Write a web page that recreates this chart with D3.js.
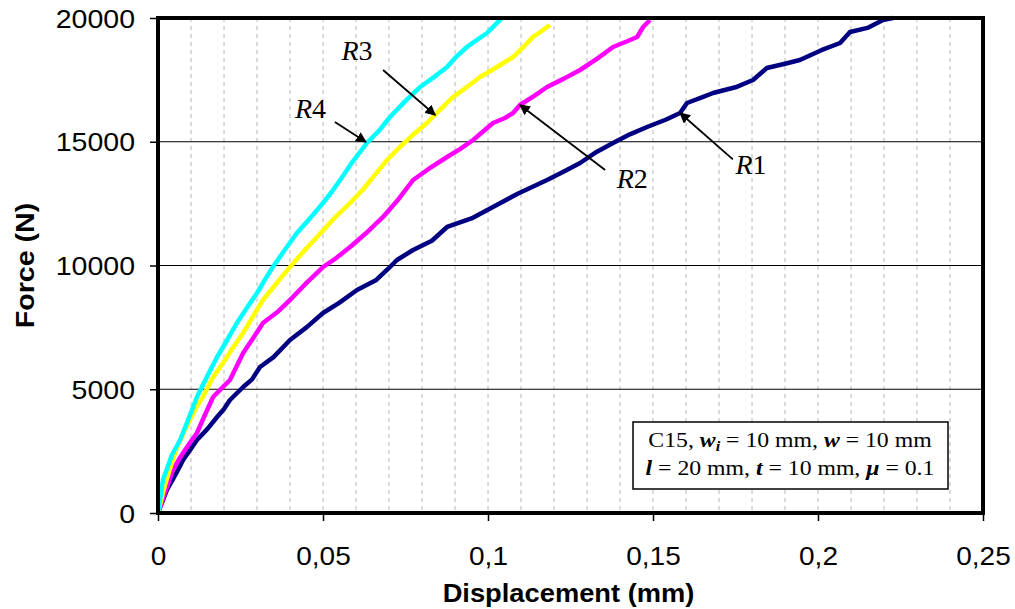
<!DOCTYPE html>
<html lang="en">
	<head>
		<meta charset="utf-8">
		<title>Force vs displacement</title>
		<script type="text/javascript" src="https://cdnjs.cloudflare.com/ajax/libs/d3/7.8.5/d3.min.js"></script>
		<style type="text/css">
			body { margin: 0; background: #fff; }
			.curve { fill: none; stroke-width: 4.5; stroke-linejoin: round; }
			.vgrid { stroke: #b8b8b8; stroke-dasharray: 4, 4; stroke-width: 1; }
			.hgrid { stroke: #000; stroke-width: 1; }
			.axis text { font-family: "Liberation Sans", Arial, sans-serif; font-size: 25px; fill: #000; }
			.axis line { stroke: #000; stroke-width: 1.5; }
			.title { font-family: "Liberation Sans", Arial, sans-serif; font-size: 26px; font-weight: bold; }
			.rlabel { font-family: "Liberation Serif", "Times New Roman", serif; font-size: 28px; }
			.note { font-family: "Liberation Serif", "Times New Roman", serif; font-size: 22px; }
		</style>
	</head>
	<body>
		<script type="text/javascript">

			var w = 1015;
			var h = 609;
			var margin = {left: 158, right: 32, top: 18, bottom: 96};

			// x = displacement (mm), y = force (N)
			var r1X = [0, 0.0027, 0.0055, 0.0076, 0.0100, 0.0118, 0.0150, 0.0179, 0.0200, 0.0218, 0.0258, 0.0285, 0.0309, 0.0350, 0.0400, 0.0450, 0.0500, 0.0550, 0.0603, 0.0660, 0.0700, 0.0724, 0.0773, 0.0830, 0.0876, 0.0950, 0.1015, 0.1090, 0.1179, 0.1230, 0.1279, 0.1330, 0.1379, 0.1430, 0.1482, 0.1540, 0.1582, 0.1603, 0.1650, 0.1682, 0.1750, 0.1803, 0.1845, 0.1900, 0.1945, 0.2010, 0.2067, 0.2097, 0.2150, 0.2197, 0.2227];
			var r1Y = [0, 929, 1600, 2141, 2600, 2949, 3400, 3879, 4200, 4566, 5091, 5400, 5899, 6300, 6990, 7500, 8081, 8500, 9010, 9400, 9900, 10222, 10626, 11000, 11556, 11900, 12364, 12900, 13455, 13800, 14141, 14600, 14949, 15300, 15596, 15900, 16162, 16566, 16800, 16970, 17200, 17495, 17980, 18150, 18303, 18700, 18990, 19434, 19600, 19919, 20000];

			var r2X = [0, 0.0024, 0.0045, 0.0065, 0.0082, 0.0100, 0.0118, 0.0140, 0.0167, 0.0190, 0.0218, 0.0258, 0.0290, 0.0318, 0.0360, 0.0400, 0.0450, 0.0500, 0.0540, 0.0582, 0.0630, 0.0682, 0.0730, 0.0773, 0.0820, 0.0876, 0.0915, 0.0955, 0.1015, 0.1050, 0.1076, 0.1097, 0.1140, 0.1179, 0.1230, 0.1279, 0.1330, 0.1379, 0.1420, 0.1452, 0.1470, 0.1491];
			var r2Y = [0, 929, 1737, 2200, 2545, 2900, 3232, 3900, 4687, 5000, 5374, 6465, 7100, 7677, 8100, 8606, 9300, 9939, 10300, 10747, 11300, 11960, 12700, 13455, 13900, 14384, 14700, 15071, 15758, 15950, 16162, 16485, 16850, 17212, 17550, 17899, 18350, 18828, 19050, 19232, 19636, 19919];

			var r3X = [0, 0.0021, 0.0040, 0.0058, 0.0078, 0.0097, 0.0115, 0.0136, 0.0165, 0.0197, 0.0228, 0.0258, 0.0288, 0.0318, 0.0360, 0.0400, 0.0440, 0.0482, 0.0530, 0.0582, 0.0620, 0.0652, 0.0690, 0.0733, 0.0770, 0.0815, 0.0855, 0.0894, 0.0935, 0.0976, 0.1025, 0.1076, 0.1105, 0.1136, 0.1160, 0.1188];
			var r3Y = [0, 1131, 1950, 2667, 3250, 3758, 4250, 4687, 5450, 6061, 6700, 7273, 7950, 8606, 9300, 9939, 10550, 11152, 11850, 12525, 13050, 13576, 14200, 14788, 15250, 15758, 16300, 16808, 17200, 17616, 18000, 18424, 18800, 19232, 19450, 19717];

			var r4X = [0, 0.0015, 0.0042, 0.0067, 0.0097, 0.0118, 0.0150, 0.0179, 0.0210, 0.0239, 0.0270, 0.0300, 0.0325, 0.0348, 0.0385, 0.0421, 0.0460, 0.0500, 0.0525, 0.0552, 0.0590, 0.0633, 0.0670, 0.0703, 0.0750, 0.0794, 0.0835, 0.0876, 0.0905, 0.0936, 0.0965, 0.0997, 0.1020, 0.1042];
			var r4Y = [0, 1333, 2343, 2949, 3960, 4687, 5550, 6303, 7000, 7677, 8300, 8889, 9450, 9939, 10650, 11313, 11900, 12525, 12950, 13455, 14200, 14949, 15450, 16000, 16650, 17212, 17600, 18020, 18450, 18828, 19100, 19394, 19700, 20000];

			var seriesNames = ["R1", "R2", "R3", "R4"];
			var seriesColors = ["#000080", "#ff00ff", "#ffff00", "#00ffff"];

			var xTicks = [0, 0.05, 0.1, 0.15, 0.2, 0.25];
			var yTicks = [0, 5000, 10000, 15000, 20000];
			var vGridValues = d3.range(1, 25).map(function(i) { return i / 100; });

			// label text position [x, y] and arrow [fromX, fromY, toX, toY], data units
			var labelPos = [[0.1750, 13700], [0.1390, 13130], [0.0556, 18300], [0.0415, 15960]];
			var arrowPos = [[0.1742, 14290], [0.1582, 16162], [0.1355, 13860], [0.1097, 16485], [0.0682, 17900], [0.0840, 16080], [0.0536, 15800], [0.0630, 14990]];

			var xScale = d3.scaleLinear().domain([0, 0.25]).range([margin.left, w - margin.right]);
			var yScale = d3.scaleLinear().domain([0, 20000]).range([h - margin.bottom, margin.top]);

			//widen text a bit, the original font is wider than Liberation
			function stretch(sel, k) {
				sel.each(function() {
					var len = this.getComputedTextLength();
					d3.select(this).attr("textLength", len * k).attr("lengthAdjust", "spacingAndGlyphs");
				});
			}

			var svg = d3.select("body")
						.append("svg")
						.attr("width", w)
						.attr("height", h);

			svg.append("defs").append("marker")
				.attr("id", "arrow")
				.attr("viewBox", "0 0 10 10")
				.attr("refX", 9)
				.attr("refY", 5)
				.attr("markerWidth", 6)
				.attr("markerHeight", 6)
				.attr("orient", "auto")
				.append("path")
				.attr("d", "M0,0 L10,5 L0,10 z")
				.attr("fill", "#000");

			//Vertical dashed grid
			svg.selectAll(".vgrid")
				.data(vGridValues)
				.enter()
				.append("line")
				.attr("class", "vgrid")
				.attr("x1", function(d) { return xScale(d); })
				.attr("x2", function(d) { return xScale(d); })
				.attr("y1", yScale(20000))
				.attr("y2", yScale(0));

			//Horizontal grid
			svg.selectAll(".hgrid")
				.data(yTicks.slice(1, 4))
				.enter()
				.append("line")
				.attr("class", "hgrid")
				.attr("x1", xScale(0))
				.attr("x2", xScale(0.25))
				.attr("y1", function(d) { return yScale(d); })
				.attr("y2", function(d) { return yScale(d); });

			//Curves
			var allX = [r1X, r2X, r3X, r4X];
			var allY = [r1Y, r2Y, r3Y, r4Y];
			var line = d3.line()
						.x(function(d) { return xScale(d[0]); })
						.y(function(d) { return yScale(d[1]); });

			seriesNames.forEach(function(name, i) {
				var pts = allX[i].map(function(x, j) { return [x, allY[i][j]]; });
				svg.append("path")
					.datum(pts)
					.attr("class", "curve")
					.attr("stroke", seriesColors[i])
					.attr("d", line);
			});

			//Frame
			svg.append("rect")
				.attr("x", xScale(0))
				.attr("y", yScale(20000))
				.attr("width", xScale(0.25) - xScale(0))
				.attr("height", yScale(0) - yScale(20000))
				.attr("fill", "none")
				.attr("stroke", "#000")
				.attr("stroke-width", 4);

			//Axes
			var xAxis = d3.axisBottom(xScale)
						.tickValues(xTicks)
						.tickSize(8)
						.tickFormat(function(d) { return String(d).replace(".", ","); });

			var yAxis = d3.axisLeft(yScale)
						.tickValues(yTicks)
						.tickSize(8)
						.tickPadding(15)
						.tickFormat(function(d) { return d; });

			var gx = svg.append("g")
				.attr("class", "axis")
				.attr("transform", "translate(0," + yScale(0) + ")")
				.call(xAxis);
			gx.select(".domain").remove();
			gx.selectAll("text").attr("dy", null).attr("y", 52);
			stretch(gx.selectAll("text"), 1.12);

			var gy = svg.append("g")
				.attr("class", "axis")
				.attr("transform", "translate(" + xScale(0) + ",0)")
				.call(yAxis);
			gy.select(".domain").remove();
			gy.selectAll("text").attr("dy", "0.36em");
			stretch(gy.selectAll("text"), 1.14);

			//Axis titles
			svg.append("text")
				.attr("class", "title")
				.attr("text-anchor", "middle")
				.attr("transform", "translate(" + ((xScale(0) + xScale(0.25)) / 2 - 2) + ",602) scale(1.05,1)")
				.text("Displacement (mm)");

			svg.append("text")
				.attr("class", "title")
				.attr("text-anchor", "middle")
				.attr("transform", "translate(34," + ((yScale(0) + yScale(20000)) / 2) + ") rotate(-90) scale(1.1,1)")
				.text("Force (N)");

			//Series labels with arrows
			seriesNames.forEach(function(name, i) {
				var t = svg.append("text")
					.attr("class", "rlabel")
					.attr("x", xScale(labelPos[i][0]))
					.attr("y", yScale(labelPos[i][1]));
				t.append("tspan").attr("font-style", "italic").text(name.charAt(0));
				t.append("tspan").text(name.slice(1));

				svg.append("line")
					.attr("x1", xScale(arrowPos[i * 2][0]))
					.attr("y1", yScale(arrowPos[i * 2][1]))
					.attr("x2", xScale(arrowPos[i * 2 + 1][0]))
					.attr("y2", yScale(arrowPos[i * 2 + 1][1]))
					.attr("stroke", "#000")
					.attr("stroke-width", 1.8)
					.attr("marker-end", "url(#arrow)");
			});

			//Parameter box
			svg.append("rect")
				.attr("x", 633)
				.attr("y", 422)
				.attr("width", 315)
				.attr("height", 67)
				.attr("fill", "#fff")
				.attr("stroke", "#000")
				.attr("stroke-width", 1.5);

			var n1 = svg.append("text").attr("class", "note").attr("x", 790).attr("y", 447).attr("text-anchor", "middle")
				.attr("transform", "translate(790,0) scale(1.08,1) translate(-790,0)");
			n1.append("tspan").text("C15, ");
			n1.append("tspan").attr("font-weight", "bold").attr("font-style", "italic").text("w");
			n1.append("tspan").attr("font-weight", "bold").attr("font-style", "italic").attr("font-size", "15px").attr("dy", 4).text("i");
			n1.append("tspan").attr("dy", -4).text(" = 10 mm, ");
			n1.append("tspan").attr("font-weight", "bold").attr("font-style", "italic").text("w");
			n1.append("tspan").text(" = 10 mm");

			var n2 = svg.append("text").attr("class", "note").attr("x", 790).attr("y", 475).attr("text-anchor", "middle")
				.attr("transform", "translate(790,0) scale(1.08,1) translate(-790,0)");
			n2.append("tspan").attr("font-weight", "bold").attr("font-style", "italic").text("l");
			n2.append("tspan").text(" = 20 mm, ");
			n2.append("tspan").attr("font-weight", "bold").attr("font-style", "italic").text("t");
			n2.append("tspan").text(" = 10 mm, ");
			n2.append("tspan").attr("font-weight", "bold").attr("font-style", "italic").text("μ");
			n2.append("tspan").text(" = 0.1");

		</script>
	</body>
</html>
